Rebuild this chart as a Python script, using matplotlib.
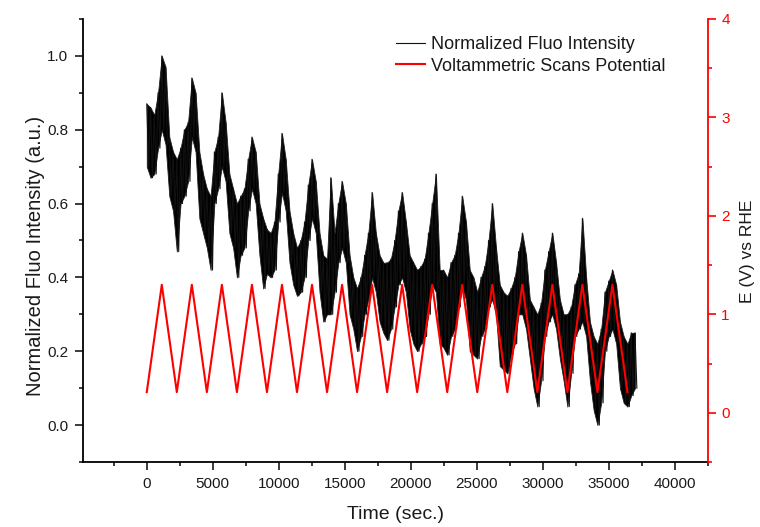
import numpy as np
import matplotlib
matplotlib.use("Agg")
import matplotlib.pyplot as plt
from matplotlib.ticker import MultipleLocator

plt.rcParams['font.family'] = ['Liberation Sans', 'DejaVu Sans']

# ---------------- data ----------------
# Voltammetric scan: triangle vertices (time in s, potential in V vs RHE)
scan_time = [0, 1137, 2275, 3412, 4550, 5687, 6825, 7962, 9100, 10237, 11375,
             12512, 13650, 14787, 15925, 17062, 18200, 19337, 20475, 21612,
             22750, 23887, 25025, 26162, 27300, 28437, 29575, 30712, 31850,
             32987, 34125, 35262, 36400]
scan_potential = [0.21, 1.30, 0.21, 1.30, 0.21, 1.30, 0.21, 1.30, 0.21, 1.30,
                  0.21, 1.30, 0.21, 1.30, 0.21, 1.30, 0.21, 1.30, 0.21, 1.30,
                  0.21, 1.30, 0.21, 1.30, 0.21, 1.30, 0.21, 1.30, 0.21, 1.30,
                  0.21, 1.30, 0.21]

# Normalized fluorescence: noise high / low read every ~284 s (0 .. 36970 s)
fluo_high = [
    0.87, 0.86, 0.84, 0.90, 1.00, 0.97, 0.78, 0.74,
    0.72, 0.75, 0.80, 0.82, 0.94, 0.90, 0.74, 0.68,
    0.64, 0.62, 0.74, 0.78, 0.90, 0.82, 0.68, 0.64,
    0.60, 0.62, 0.64, 0.72, 0.78, 0.74, 0.60, 0.56,
    0.53, 0.52, 0.55, 0.68, 0.79, 0.72, 0.58, 0.52,
    0.48, 0.50, 0.55, 0.65, 0.72, 0.66, 0.52, 0.46,
    0.45, 0.67, 0.52, 0.60, 0.66, 0.60, 0.46, 0.40,
    0.37, 0.40, 0.46, 0.52, 0.63, 0.52, 0.46, 0.44,
    0.44, 0.45, 0.50, 0.58, 0.63, 0.55, 0.46, 0.44,
    0.42, 0.43, 0.45, 0.52, 0.60, 0.68, 0.42, 0.42,
    0.40, 0.44, 0.46, 0.52, 0.62, 0.55, 0.42, 0.40,
    0.36, 0.40, 0.43, 0.50, 0.60, 0.48, 0.38, 0.36,
    0.35, 0.37, 0.40, 0.47, 0.52, 0.46, 0.34, 0.32,
    0.30, 0.33, 0.42, 0.47, 0.52, 0.44, 0.34, 0.30,
    0.30, 0.32, 0.38, 0.41, 0.56, 0.40, 0.28, 0.24,
    0.22, 0.26, 0.36, 0.39, 0.42, 0.38, 0.28, 0.24,
    0.22, 0.25, 0.25]
fluo_low = [
    0.70, 0.67, 0.68, 0.75, 0.80, 0.76, 0.62, 0.58,
    0.47, 0.60, 0.62, 0.66, 0.78, 0.74, 0.56, 0.52,
    0.48, 0.42, 0.60, 0.64, 0.70, 0.66, 0.52, 0.48,
    0.40, 0.46, 0.48, 0.58, 0.64, 0.60, 0.46, 0.37,
    0.41, 0.40, 0.42, 0.55, 0.63, 0.58, 0.44, 0.38,
    0.35, 0.36, 0.40, 0.50, 0.56, 0.52, 0.36, 0.28,
    0.30, 0.30, 0.36, 0.44, 0.48, 0.44, 0.30, 0.26,
    0.20, 0.24, 0.30, 0.34, 0.40, 0.36, 0.28, 0.25,
    0.23, 0.26, 0.32, 0.38, 0.40, 0.36, 0.26, 0.22,
    0.20, 0.22, 0.24, 0.30, 0.38, 0.36, 0.22, 0.21,
    0.19, 0.24, 0.26, 0.32, 0.37, 0.34, 0.20, 0.19,
    0.18, 0.24, 0.26, 0.32, 0.34, 0.30, 0.16, 0.15,
    0.14, 0.19, 0.22, 0.30, 0.30, 0.26, 0.18, 0.10,
    0.05, 0.12, 0.24, 0.28, 0.30, 0.26, 0.18, 0.12,
    0.05, 0.14, 0.24, 0.26, 0.28, 0.24, 0.12, 0.04,
    0.00, 0.06, 0.20, 0.24, 0.26, 0.22, 0.10, 0.06,
    0.05, 0.08, 0.10]
fluo_time = np.linspace(0, 36969, len(fluo_high))

x_ticks = [0, 5000, 10000, 15000, 20000, 25000, 30000, 35000, 40000]
left_ticks = [0.0, 0.2, 0.4, 0.6, 0.8, 1.0]
right_ticks = [0, 1, 2, 3, 4]

# -------------- figure ----------------
fig = plt.figure(figsize=(7.6, 5.27), dpi=100)
ax = fig.add_axes([0.1092, 0.1233, 0.8224, 0.8407])
ax2 = ax.twinx()

# dense noise band between the read high / low values
ax.fill_between(fluo_time, fluo_low, fluo_high, color='black', lw=0.6,
                edgecolor='#222222')
half = (fluo_time[1] - fluo_time[0]) / 2
t_zig = np.column_stack([fluo_time, fluo_time + half]).ravel()
v_zig = np.column_stack([fluo_high, fluo_low]).ravel()
l1, = ax.plot(t_zig, v_zig, color='#111111', lw=0.8,
              label='Normalized Fluo Intensity')
l2, = ax2.plot(scan_time, scan_potential, color='#ff0000', lw=1.5,
               label='Voltammetric Scans Potential')

ax.set_xlim(-4830, 42500)
ax.set_ylim(-0.1, 1.1)
ax2.set_ylim(-0.5, 4.0)

ax.set_xticks(x_ticks)
ax.set_yticks(left_ticks)
ax.set_yticklabels([f"{v:.1f}" for v in left_ticks])
ax2.set_yticks(right_ticks)
ax.xaxis.set_minor_locator(MultipleLocator(2500))
ax.yaxis.set_minor_locator(MultipleLocator(0.1))
ax2.yaxis.set_minor_locator(MultipleLocator(0.5))

for a in (ax, ax2):
    a.spines['top'].set_visible(False)
    for s in a.spines.values():
        s.set_linewidth(1.3)
ax.spines['right'].set_visible(False)
ax2.spines['left'].set_visible(False)
ax2.spines['bottom'].set_visible(False)
ax2.spines['right'].set_color('#ff0000')

ax.tick_params(axis='both', which='major', direction='out', length=5.5,
               width=1.2, labelsize=11, pad=5, colors='#1a1a1a')
ax.tick_params(axis='both', which='minor', direction='out', length=3,
               width=1.2, colors='#1a1a1a')
ax2.tick_params(axis='y', which='major', direction='out', length=5.5,
                width=1.2, labelsize=11, pad=4, colors='#ff0000')
ax2.tick_params(axis='y', which='minor', direction='out', length=3,
                width=1.2, colors='#ff0000')

ax.set_xlabel('Time (sec.)', fontsize=14, color='#1a1a1a', labelpad=11)
ax.set_ylabel('Normalized Fluo Intensity (a.u.)', fontsize=14.5,
              color='#1a1a1a')
ax.yaxis.set_label_coords(-0.061, 0.465)
ax2.set_ylabel('E (V) vs RHE', fontsize=12.5, color='#1a1a1a')
ax2.yaxis.set_label_coords(1.051, 0.476)

leg = ax2.legend(handles=[l1, l2], loc='upper left',
                 bbox_to_anchor=(396 / 760, 1 - 36 / 527),
                 bbox_transform=fig.transFigure, frameon=False,
                 fontsize=13, handlelength=1.6, handletextpad=0.35,
                 labelspacing=0.25, borderpad=0, borderaxespad=0)
for t in leg.get_texts():
    t.set_color('#1a1a1a')

fig.savefig('out.png', dpi=100)
